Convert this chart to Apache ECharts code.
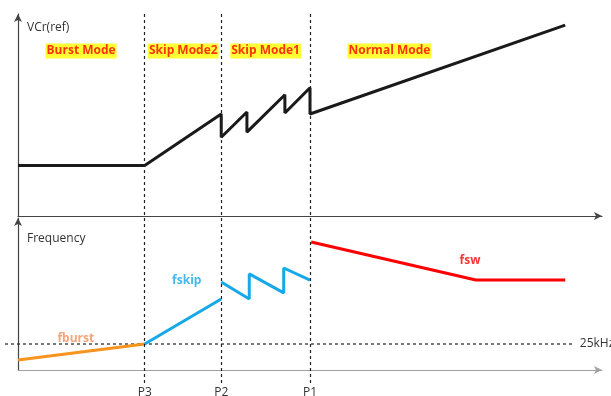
<!DOCTYPE html>
<html>
<head>
<meta charset="utf-8">
<script src="https://cdn.jsdelivr.net/npm/echarts@6/dist/echarts.min.js"></script>
<style>
html, body { margin: 0; padding: 0; background: #fff; }
#main { width: 611px; height: 396px; }
</style>
</head>
<body>
<div id="main"></div>
<script>
var dom = document.getElementById("main");
var myChart = echarts.init(dom);
var option = null;

// x positions (0..100 across the axis) of the mode boundaries
var boundaryNames = ['P3', 'P2', 'P1'];
var boundaryX = [21.7, 34.8, 50];

// top panel: VCr(ref)
var vcrRef = [[0, 25], [21.7, 25], [34.8, 50.5], [34.8, 39], [39.2, 51.5], [39.2, 41.5],
    [45.7, 60], [45.7, 51], [50, 63.5], [50, 50.5], [93.7, 94.5]];
var modeNames = ['Burst Mode', 'Skip Mode2', 'Skip Mode1', 'Normal Mode'];
var modeX = [10.8, 28.3, 42.4, 63.6];
var modeY = 81.7;

// bottom panel: frequency
var fburst = [[0, 6.6], [21.7, 17.1]];
var fskip = [[21.7, 17.1], [34.8, 46.7], [null, null], [34.8, 57.9], [39.6, 46.7], [39.6, 63.2],
    [45.5, 50.7], [45.5, 67.1], [50, 59.2]];
var fsw = [[50.2, 84.2], [78.4, 59.2], [93.7, 59.2]];
var limit25k = 17.1;
var limitEnd = 95;

var font = 'Open Sans';

function axisX(idx, color) {
    return {
        type: 'value', gridIndex: idx, min: 0, max: 100,
        axisLine: { show: true, onZero: false, symbol: ['none', 'arrow'], symbolSize: [6, 8],
            lineStyle: { color: color, width: 1.2 } },
        axisTick: { show: false }, axisLabel: { show: false }, splitLine: { show: false }
    };
}
function axisY(idx) {
    return {
        type: 'value', gridIndex: idx, min: 0, max: 100,
        axisLine: { show: true, onZero: false, symbol: ['none', 'arrow'], symbolSize: [6, 8],
            lineStyle: { color: '#444', width: 1.2 } },
        axisTick: { show: false }, axisLabel: { show: false }, splitLine: { show: false }
    };
}

option = {
    animation: false,
    textStyle: { fontFamily: font },
    title: [
        { text: 'VCr(ref)', left: 22, top: 17, textStyle: { fontSize: 12, fontWeight: 'normal', color: '#333', fontFamily: font } },
        { text: 'Frequency', left: 22, top: 228, textStyle: { fontSize: 12, fontWeight: 'normal', color: '#333', fontFamily: font } }
    ],
    grid: [
        { left: 18, top: 14, width: 584, height: 202 },
        { left: 18, top: 218, width: 584, height: 152 },
        { left: 5, top: 12, width: 597, height: 371 }
    ],
    xAxis: [
        axisX(0, '#444'),
        axisX(1, '#a0a0a0'),
        { type: 'value', gridIndex: 2, min: -2.226, max: 100, show: false }
    ],
    yAxis: [
        axisY(0),
        axisY(1),
        { type: 'value', gridIndex: 2, min: -8.55, max: 235.5, show: false }
    ],
    series: [
        {
            type: 'line', xAxisIndex: 2, yAxisIndex: 2, z: 1,
            data: [[-2.226, limit25k], [limitEnd, limit25k]],
            symbol: 'none', silent: true,
            lineStyle: { color: '#222', width: 1.2, type: [3, 3] },
            endLabel: { show: true, formatter: '25kHz', distance: 7, fontSize: 12, color: '#333', fontFamily: font },
            markLine: {
                silent: true, symbol: 'none',
                lineStyle: { color: '#222', width: 1.2, type: [3, 3] },
                label: { show: true, position: 'start', distance: 4, formatter: '{b}', fontSize: 12, color: '#333', fontFamily: font },
                data: boundaryX.map(function (x, i) { return { name: boundaryNames[i], xAxis: x }; })
            }
        },
        {
            type: 'line', xAxisIndex: 0, yAxisIndex: 0, z: 3, data: vcrRef,
            symbol: 'none', lineStyle: { color: '#1a1a1a', width: 3 }
        },
        {
            type: 'scatter', xAxisIndex: 0, yAxisIndex: 0, z: 4, symbolSize: 1, silent: true,
            itemStyle: { color: 'rgba(0,0,0,0)' },
            data: modeX.map(function (x, i) { return { name: modeNames[i], value: [x, modeY] }; }),
            label: { show: true, position: 'inside', formatter: '{b}', fontSize: 12, fontWeight: 'bold',
                color: '#ff0000', backgroundColor: '#ffff00', padding: [2, 1, 1, 1], fontFamily: font }
        },
        {
            type: 'line', xAxisIndex: 1, yAxisIndex: 1, z: 3, data: fburst,
            symbol: 'none', lineStyle: { color: '#f7931e', width: 3 }
        },
        {
            type: 'line', xAxisIndex: 1, yAxisIndex: 1, z: 3, data: fskip, connectNulls: false,
            symbol: 'none', lineStyle: { color: '#17a8e8', width: 3 }
        },
        {
            type: 'line', xAxisIndex: 1, yAxisIndex: 1, z: 3, data: fsw,
            symbol: 'none', lineStyle: { color: '#ff0000', width: 3 }
        },
        {
            type: 'scatter', xAxisIndex: 1, yAxisIndex: 1, z: 4, symbolSize: 1, silent: true,
            itemStyle: { color: 'rgba(0,0,0,0)' },
            data: [
                { name: 'fburst', value: [9.9, 21], label: { color: '#f58d55' } },
                { name: 'fskip', value: [28.9, 58.6], label: { color: '#17a8e8' } },
                { name: 'fsw', value: [77.4, 71.7], label: { color: '#ff0000' } }
            ],
            label: { show: true, position: 'inside', formatter: '{b}', fontSize: 12, fontWeight: 'bold', fontFamily: font }
        }
    ]
};
if (option && typeof option === "object") {
    myChart.setOption(option, true);
}
</script>
</body>
</html>
